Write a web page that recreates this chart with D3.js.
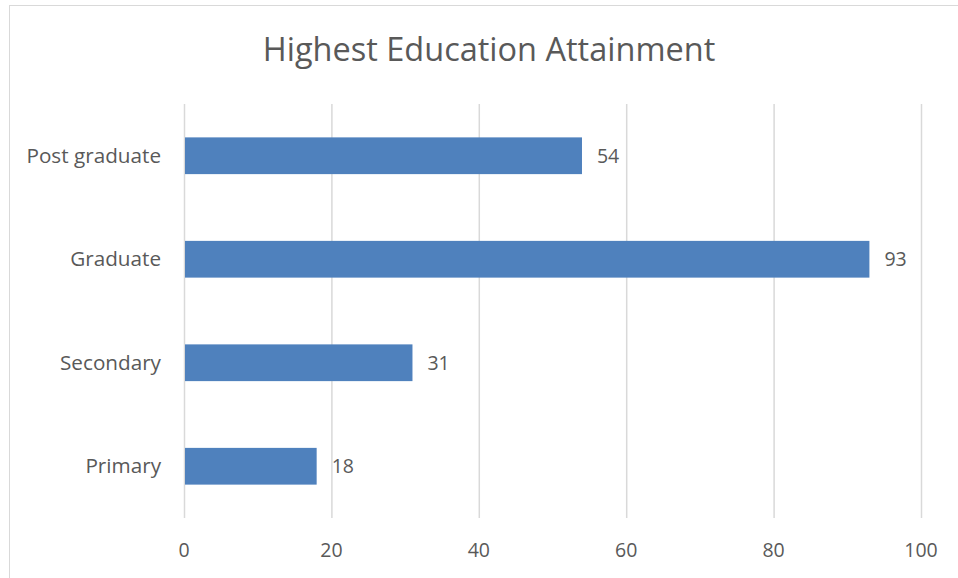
<!DOCTYPE html>
<html>
<head>
<meta charset="utf-8">
<script src="https://cdn.jsdelivr.net/npm/d3@7"></script>
<style>
  body { margin: 0; background: #fff; }
  svg { display: block; font-family: "Open Sans", Lato, sans-serif; }
  .grid line { stroke: #d9d9d9; stroke-width: 1.5; }
  .grid .domain { display: none; }
  text { fill: #595959; }
</style>
</head>
<body>
<svg></svg>
<script>
var categories = ['Post graduate', 'Graduate', 'Secondary', 'Primary'];
var values = [54, 93, 31, 18];
var xTicks = [0, 20, 40, 60, 80, 100];
var title = 'Highest Education Attainment';

var width = 958;
var height = 578;
var margin = {top: 104, right: 37, bottom: 60, left: 184};

var svg = d3.select('svg')
    .attr('width', width)
    .attr('height', height);

// chart border, runs off the right and bottom edges like the original
svg.append('rect')
    .attr('x', 9.5)
    .attr('y', 5.5)
    .attr('width', 1000)
    .attr('height', 1000)
    .attr('fill', 'none')
    .attr('stroke', '#d9d9d9');

var x = d3.scaleLinear()
    .domain([0, 100])
    .range([margin.left, width - margin.right]);

var y = d3.scaleBand()
    .domain(categories)
    .range([margin.top, height - margin.bottom])
    .paddingInner(0.645)
    .paddingOuter(0.3225);

svg.append('text')
    .attr('x', 489)
    .attr('y', 61)
    .attr('text-anchor', 'middle')
    .style('font-size', '32.5px')
    .text(title);

// vertical gridlines
svg.append('g')
    .attr('class', 'grid')
    .attr('transform', `translate(0,${height - margin.bottom})`)
    .call(d3.axisBottom(x)
        .tickValues(xTicks)
        .tickSize(-(height - margin.top - margin.bottom))
        .tickFormat(''));

// tick labels
svg.append('g')
    .selectAll('text')
    .data(xTicks)
    .enter().append('text')
    .attr('x', d => x(d))
    .attr('y', 550)
    .attr('dy', '0.35em')
    .attr('text-anchor', 'middle')
    .style('font-size', '19.5px')
    .text(d => d);

svg.append('g')
    .selectAll('text')
    .data(categories)
    .enter().append('text')
    .attr('x', margin.left - 23)
    .attr('y', d => y(d) + y.bandwidth() / 2)
    .attr('dy', '0.35em')
    .attr('text-anchor', 'end')
    .style('font-size', '20.7px')
    .text(d => d);

svg.append('g')
    .selectAll('rect')
    .data(values)
    .enter().append('rect')
    .attr('x', x(0) + 1)
    .attr('y', (d, i) => y(categories[i]))
    .attr('width', d => x(d) - x(0) - 1)
    .attr('height', y.bandwidth())
    .attr('fill', '#4f81bd');

svg.append('g')
    .selectAll('text')
    .data(values)
    .enter().append('text')
    .attr('x', d => x(d) + 15)
    .attr('y', (d, i) => y(categories[i]) + y.bandwidth() / 2)
    .attr('dy', '0.35em')
    .style('font-size', '19.5px')
    .text(d => d);
</script>
</body>
</html>
